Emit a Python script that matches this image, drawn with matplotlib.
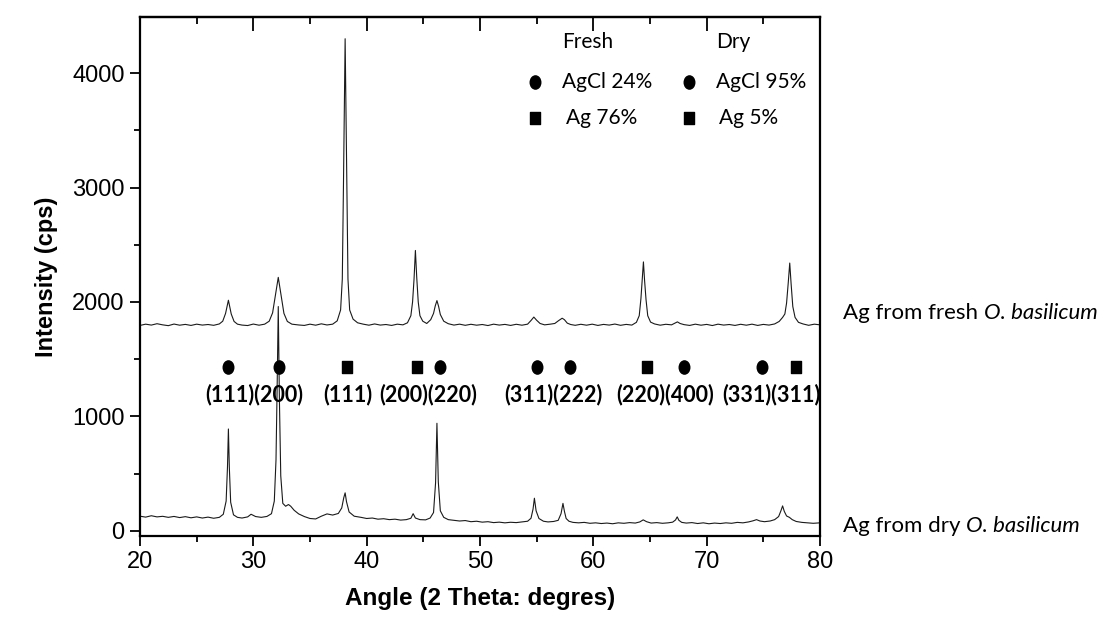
"""XRD patterns of Ag nanoparticles from fresh and dry O. basilicum."""

import matplotlib

matplotlib.use("Agg")
import matplotlib.pyplot as plt
from matplotlib.path import Path
from matplotlib.transforms import Affine2D

# fresh sample trace (2 theta, cps)
fresh_theta = [
    20.0, 20.5, 21.0, 21.5, 22.0, 22.5, 23.0, 23.5, 24.0, 24.5, 25.0, 25.5,
    26.0, 26.5, 27.0, 27.3, 27.55, 27.8, 28.05, 28.3, 28.6, 29.0, 29.5, 30.0,
    30.5, 31.0, 31.4, 31.7, 31.95, 32.2, 32.45, 32.7, 33.0, 33.4, 34.0, 34.5,
    35.0, 35.5, 36.0, 36.5, 37.0, 37.4, 37.7, 37.85, 37.95, 38.1, 38.25, 38.35,
    38.5, 38.8, 39.2, 39.7, 40.2, 40.7, 41.2, 41.7, 42.2, 42.7, 43.2, 43.6,
    43.9, 44.05, 44.18, 44.3, 44.42, 44.55, 44.7, 44.95, 45.3, 45.65, 45.9,
    46.05, 46.2, 46.35, 46.5, 46.8, 47.2, 47.7, 48.2, 48.7, 49.2, 49.7, 50.2,
    50.7, 51.2, 51.7, 52.2, 52.7, 53.2, 53.7, 54.2, 54.5, 54.75, 55.0, 55.3,
    55.7, 56.2, 56.6, 56.95, 57.25, 57.45, 57.7, 58.0, 58.4, 58.9, 59.4, 59.9,
    60.4, 60.9, 61.4, 61.9, 62.4, 62.9, 63.4, 63.8, 64.05, 64.2, 64.32, 64.42,
    64.52, 64.65, 64.8, 65.05, 65.4, 65.9, 66.4, 66.9, 67.2, 67.42, 67.65,
    68.0, 68.5, 69.0, 69.5, 70.0, 70.5, 71.0, 71.5, 72.0, 72.5, 73.0, 73.5,
    74.0, 74.5, 75.0, 75.5, 76.0, 76.4, 76.7, 76.9, 77.05, 77.2, 77.33, 77.45,
    77.6, 77.8, 78.1, 78.5, 79.0, 79.5, 80.0,
]
fresh_cps = [
    1795, 1806, 1798, 1810, 1800, 1793, 1807, 1797, 1804, 1795, 1806, 1798,
    1803, 1796, 1808, 1832, 1900, 2015, 1895, 1830, 1806, 1798, 1794, 1807,
    1797, 1806, 1832, 1905, 2060, 2215, 2055, 1900, 1830, 1806, 1799, 1795,
    1806, 1797, 1809, 1799, 1806, 1835, 1930, 2200, 3000, 4300, 3000, 2200,
    1930, 1850, 1818, 1806, 1797, 1808, 1798, 1803, 1795, 1806, 1800, 1818,
    1880, 2000, 2200, 2450, 2210, 2000, 1880, 1832, 1812, 1845, 1900,
    1965, 2012, 1960, 1890, 1832, 1810, 1798, 1806, 1796, 1805, 1797, 1803,
    1794, 1806, 1798, 1804, 1795, 1805, 1797, 1806, 1838, 1868, 1840, 1812,
    1800, 1806, 1812, 1838, 1858, 1845, 1815, 1803, 1796, 1805, 1797, 1806,
    1795, 1804, 1798, 1807, 1796, 1804, 1798, 1822, 1880, 2030, 2200, 2350,
    2190, 2020, 1880, 1824, 1808, 1797, 1805, 1800, 1815, 1826, 1812,
    1802, 1795, 1806, 1797, 1804, 1794, 1806, 1798, 1803, 1795, 1805, 1797,
    1806, 1795, 1804, 1798, 1808, 1830, 1865, 1895, 1990, 2170, 2340, 2160,
    1960, 1865, 1822, 1808, 1796, 1806, 1800,
]

# dry sample trace (2 theta, cps)
dry_theta = [
    20.0, 20.5, 21.0, 21.5, 22.0, 22.5, 23.0, 23.5, 24.0, 24.5, 25.0, 25.5,
    26.0, 26.5, 27.0, 27.35, 27.6, 27.72, 27.8, 27.88, 28.0, 28.25, 28.6, 29.0,
    29.5, 29.8, 30.2, 30.7, 31.2, 31.6, 31.85, 32.0, 32.1, 32.2, 32.3, 32.42,
    32.6, 32.85, 33.1, 33.3, 33.6, 34.0, 34.5, 35.0, 35.5, 36.0, 36.5, 37.0,
    37.5, 37.8, 37.98, 38.1, 38.22, 38.45, 38.9, 39.5, 40.0, 40.5, 41.0, 41.5,
    42.0, 42.5, 43.0, 43.5, 43.9, 44.1, 44.3, 44.7, 45.2, 45.6, 45.9, 46.08,
    46.2, 46.32, 46.5, 46.8, 47.2, 47.7, 48.2, 48.7, 49.2, 49.7, 50.2, 50.7,
    51.2, 51.7, 52.2, 52.7, 53.2, 53.7, 54.2, 54.5, 54.68, 54.8, 54.95, 55.2,
    55.6, 56.0, 56.5, 56.9, 57.15, 57.32, 57.45, 57.6, 57.85, 58.2, 58.7, 59.2,
    59.7, 60.2, 60.7, 61.2, 61.7, 62.2, 62.7, 63.2, 63.7, 64.1, 64.4, 64.7,
    65.1, 65.6, 66.1, 66.6, 67.0, 67.25, 67.4, 67.55, 67.8, 68.2, 68.7, 69.2,
    69.7, 70.2, 70.7, 71.2, 71.7, 72.2, 72.7, 73.2, 73.7, 74.1, 74.4, 74.7,
    75.1, 75.6, 76.0, 76.35, 76.55, 76.7, 76.85, 77.05, 77.3, 77.55, 77.9,
    78.4, 78.9, 79.4, 80.0,
]
dry_cps = [
    128, 120, 132, 122, 127, 118, 126, 116, 124, 114, 122, 112,
    120, 110, 118, 145, 260, 560, 890, 560, 250, 140, 118, 112,
    122, 145, 125, 118, 126, 150, 260, 620, 1250, 1960, 1150, 480,
    240, 215, 230, 215, 180, 148, 125, 108, 104, 128, 148, 138,
    152, 200, 290, 332, 255, 165, 128, 118, 108, 112, 102, 106,
    98, 102, 94, 98, 110, 150, 112, 98, 96, 112, 160, 420,
    940, 430, 175, 118, 98, 92, 86, 90, 80, 84, 76, 80,
    72, 76, 70, 75, 72, 78, 84, 110, 190, 285, 175, 108,
    84, 78, 82, 92, 150, 240, 170, 108, 84, 74, 70, 74,
    66, 70, 64, 68, 62, 70, 66, 72, 68, 78, 96, 80,
    68, 72, 66, 70, 76, 95, 122, 92, 74, 68, 72, 64,
    70, 62, 68, 64, 70, 66, 74, 70, 78, 88, 98, 86,
    80, 86, 98, 125, 175, 218, 170, 130, 118, 98, 82,
    74, 70, 66, 70,
]

# reflections (2 theta) and phase markers
agcl_theta = [27.8, 32.3, 46.5, 55.0, 57.9, 68.0, 74.9]
ag_theta = [38.3, 44.4, 64.7, 77.9]
hkl_groups = ["(111)(200)", "(111)", "(200)(220)", "(311)(222)",
              "(220)(400)", "(331)(311)"]
hkl_centers = [30.05, 38.3, 45.45, 56.45, 66.35, 75.7]

phase_labels = ["Fresh", "Dry"]
agcl_pct = ["AgCl 24%", "AgCl 95%"]
ag_pct = ["Ag 76%", "Ag 5%"]

sans = ["Lato", "DejaVu Sans"]
arial = ["Liberation Sans", "DejaVu Sans"]

# the source figure is slightly stretched vertically, so are its symbols
dot = Path.unit_circle().transformed(Affine2D().scale(0.8, 1.0))
box = Path.unit_rectangle().transformed(Affine2D().translate(-0.5, -0.5).scale(0.8, 1.0))

fig = plt.figure(figsize=(11.02, 6.21), dpi=100)
ax = fig.add_axes([140 / 1102, 1 - 536 / 621, 680 / 1102, 519 / 621])

ax.plot(fresh_theta, fresh_cps, color="#1a1a1a", linewidth=0.8)
ax.plot(dry_theta, dry_cps, color="#1a1a1a", linewidth=0.8)

mark_y = 1430
ax.plot(agcl_theta, [mark_y] * len(agcl_theta), linestyle="none", marker=dot,
        color="black", markersize=9.5)
ax.plot(ag_theta, [mark_y] * len(ag_theta), linestyle="none", marker=box,
        color="black", markersize=8.2)
for label, xc in zip(hkl_groups, hkl_centers):
    ax.text(xc, 1195, label, ha="center", va="center", fontsize=15.5,
            fontweight="bold", family=sans)

# composition key
for i, (head, c_lbl, s_lbl) in enumerate(zip(phase_labels, agcl_pct, ag_pct)):
    x0 = 54.85 + i * 13.55
    ax.text(x0 + 2.4, 4270, head, ha="left", va="center", fontsize=15, family=sans)
    ax.plot([x0], [3920], linestyle="none", marker=dot, color="black", markersize=9.5)
    ax.plot([x0], [3610], linestyle="none", marker=box, color="black", markersize=8.2)
    ax.text(x0 + 2.4, 3920, c_lbl, ha="left", va="center", fontsize=15, family=sans)
    ax.text(x0 + 2.7, 3610, s_lbl, ha="left", va="center", fontsize=15, family=sans)

# trace names right of the frame
for y_fig, sample in [(0.496, "fresh"), (0.153, "dry")]:
    t = fig.text(843 / 1102, y_fig, f"Ag from {sample} ", ha="left", va="center",
                 fontsize=16, family=sans)
    ax.annotate("O. basilicum", xy=(1, 0.5), xycoords=t, ha="left", va="center",
                fontsize=16, family=sans, style="italic", annotation_clip=False)

ax.set_xlim(20, 80)
ax.set_ylim(-45, 4490)
ax.set_xticks(range(20, 81, 10))
ax.set_xticks(range(25, 80, 10), minor=True)
ax.set_yticks(range(0, 4001, 1000))
ax.set_yticks(range(500, 4500, 1000), minor=True)
ax.tick_params(axis="both", which="major", direction="out", length=7, width=1.3,
               labelsize=17, pad=4)
ax.tick_params(axis="both", which="minor", direction="out", length=4, width=1.3)
for lbl in ax.get_xticklabels() + ax.get_yticklabels():
    lbl.set_family(arial)

top = ax.secondary_xaxis("top")
top.set_xticks(range(20, 81, 10))
top.set_xticks(range(25, 80, 10), minor=True)
top.tick_params(which="major", direction="in", length=10, width=1.3, labeltop=False)
top.tick_params(which="minor", direction="in", length=5, width=1.3)
top.spines["top"].set_linewidth(1.6)

for side in ax.spines.values():
    side.set_linewidth(1.6)

ax.set_xlabel("Angle (2 Theta: degres)", fontsize=17.5, fontweight="bold",
              family=arial, labelpad=10)
ax.set_ylabel("Intensity (cps)", fontsize=17, fontweight="bold",
              family=arial, labelpad=10)

fig.savefig("out.png", dpi=100)
